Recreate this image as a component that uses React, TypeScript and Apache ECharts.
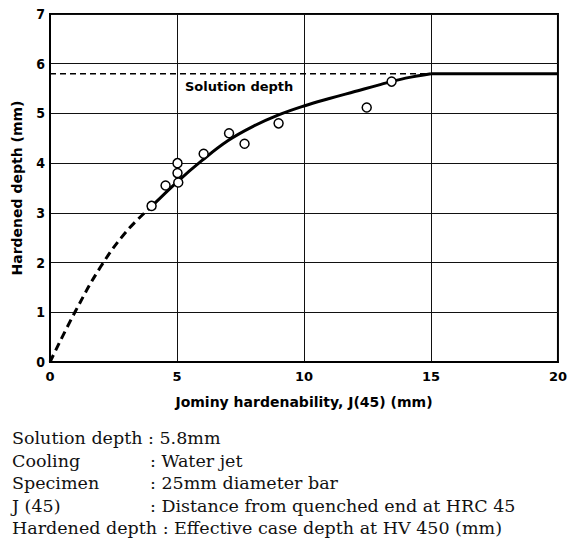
import React, { useEffect, useRef } from "react";
import * as echarts from "echarts";

// Measured hardened depth vs. Jominy distance J(45)
const measuredPoints: [number, number][] = [
  [4.0, 3.14],
  [4.55, 3.55],
  [5.02, 4.0],
  [5.02, 3.8],
  [5.05, 3.61],
  [6.05, 4.19],
  [7.05, 4.6],
  [7.66, 4.39],
  [9.0, 4.8],
  [12.47, 5.12],
  [13.45, 5.64],
];

// Extrapolated part of the curve (dashed) towards the origin
const extrapolatedCurve: [number, number][] = [
  [0, 0],
  [1, 1.02],
  [2, 1.92],
  [3, 2.62],
  [4, 3.13],
];

// Fitted curve through the measured range up to the solution depth
const fittedCurve: [number, number][] = [
  [4, 3.13],
  [5, 3.62],
  [6, 4.06],
  [7, 4.45],
  [8, 4.74],
  [9, 4.97],
  [10, 5.15],
  [11, 5.3],
  [12, 5.44],
  [13, 5.58],
  [14, 5.71],
  [15, 5.8],
];

// Plateau at the solution depth beyond J = 15 mm
const plateau: [number, number][] = [
  [15, 5.8],
  [20, 5.8],
];

// Solution depth reference line (5.8 mm)
const solutionDepth: [number, number][] = [
  [0, 5.8],
  [14.8, 5.8],
];

const xTicks = { min: 0, max: 20, interval: 5 };
const yTicks = { min: 0, max: 7, interval: 1 };

const notes: { label: string; value: string }[] = [
  { label: "Cooling", value: ": Water jet" },
  { label: "Specimen", value: ": 25mm diameter bar" },
  { label: "J (45)", value: ": Distance from quenched end at HRC 45" },
];
const firstNote = "Solution depth : 5.8mm";
const lastNote = "Hardened depth : Effective case depth at HV 450 (mm)";

const sansBold = "'DejaVu Sans', 'Liberation Sans', sans-serif";
const narrowBold = "'Liberation Sans Narrow', 'DejaVu Sans Condensed', 'Liberation Sans', sans-serif";
const serif = "'DejaVu Serif', 'Liberation Serif', serif";

export default function App() {
  const ref = useRef<HTMLDivElement>(null);

  useEffect(() => {
    if (!ref.current) return;
    const chart = echarts.init(ref.current, undefined, { renderer: "svg" });

    const noteStyle = { fontFamily: serif, fontSize: 17.5, fill: "#111", verticalAlign: "middle" as const };
    const lineY = [438, 460.5, 483, 505.5, 528];

    const graphics: any[] = [
      {
        type: "text",
        left: 185,
        top: 80,
        style: { text: "Solution depth", fontFamily: sansBold, fontWeight: "bold", fontSize: 13, fill: "#000" },
      },
      { type: "text", x: 12, y: lineY[0], style: { ...noteStyle, text: firstNote } },
    ];
    notes.forEach((n, i) => {
      graphics.push({ type: "text", x: 12, y: lineY[i + 1], style: { ...noteStyle, text: n.label } });
      graphics.push({ type: "text", x: 150, y: lineY[i + 1], style: { ...noteStyle, text: n.value } });
    });
    graphics.push({ type: "text", x: 12, y: lineY[4], style: { ...noteStyle, text: lastNote } });

    const curveStyle = { color: "#000", width: 3 };

    chart.setOption({
      animation: false,
      backgroundColor: "#fff",
      grid: {
        left: 50,
        right: 11,
        top: 14,
        bottom: 181,
        show: true,
        borderColor: "#000",
        borderWidth: 2,
        backgroundColor: "transparent",
      },
      xAxis: {
        type: "value",
        ...xTicks,
        name: "Jominy hardenability, J(45) (mm)",
        nameLocation: "middle",
        nameGap: 33,
        nameTextStyle: { fontFamily: sansBold, fontWeight: "bold", fontSize: 14, color: "#000" },
        axisLine: { show: true, lineStyle: { color: "#000", width: 2 } },
        axisTick: { show: false },
        axisLabel: { fontFamily: sansBold, fontWeight: "bold", fontSize: 13, color: "#000", margin: 8 },
        splitLine: { show: true, lineStyle: { color: "#111", width: 1 } },
      },
      yAxis: {
        type: "value",
        ...yTicks,
        name: "Hardened depth (mm)",
        nameLocation: "middle",
        nameRotate: 90,
        nameGap: 26,
        nameTextStyle: { fontFamily: sansBold, fontWeight: "bold", fontSize: 14, color: "#000" },
        axisLine: { show: true, lineStyle: { color: "#000", width: 2 } },
        axisTick: { show: false },
        axisLabel: { fontFamily: narrowBold, fontWeight: "bold", fontSize: 14, color: "#000", margin: 5 },
        splitLine: { show: true, lineStyle: { color: "#111", width: 1 } },
      },
      series: [
        {
          type: "line",
          data: solutionDepth,
          symbol: "none",
          lineStyle: { color: "#000", width: 1.5, type: [6, 4] },
          z: 2,
        },
        {
          type: "line",
          data: extrapolatedCurve,
          symbol: "none",
          smooth: 0.4,
          lineStyle: { color: "#000", width: 3, type: [8, 5] },
          z: 3,
        },
        {
          type: "line",
          data: fittedCurve,
          symbol: "none",
          smooth: 0.4,
          lineStyle: curveStyle,
          z: 3,
        },
        {
          type: "line",
          data: plateau,
          symbol: "none",
          lineStyle: curveStyle,
          z: 3,
        },
        {
          type: "scatter",
          data: measuredPoints,
          symbol: "circle",
          symbolSize: 9,
          itemStyle: { color: "#fff", borderColor: "#000", borderWidth: 1.5, opacity: 1 },
          z: 5,
        },
      ],
      graphic: graphics,
    });

    return () => chart.dispose();
  }, []);

  return (
    <div
      ref={ref}
      style={{ position: "fixed", left: 0, top: 0, width: 570, height: 543, background: "#fff" }}
    />
  );
}
